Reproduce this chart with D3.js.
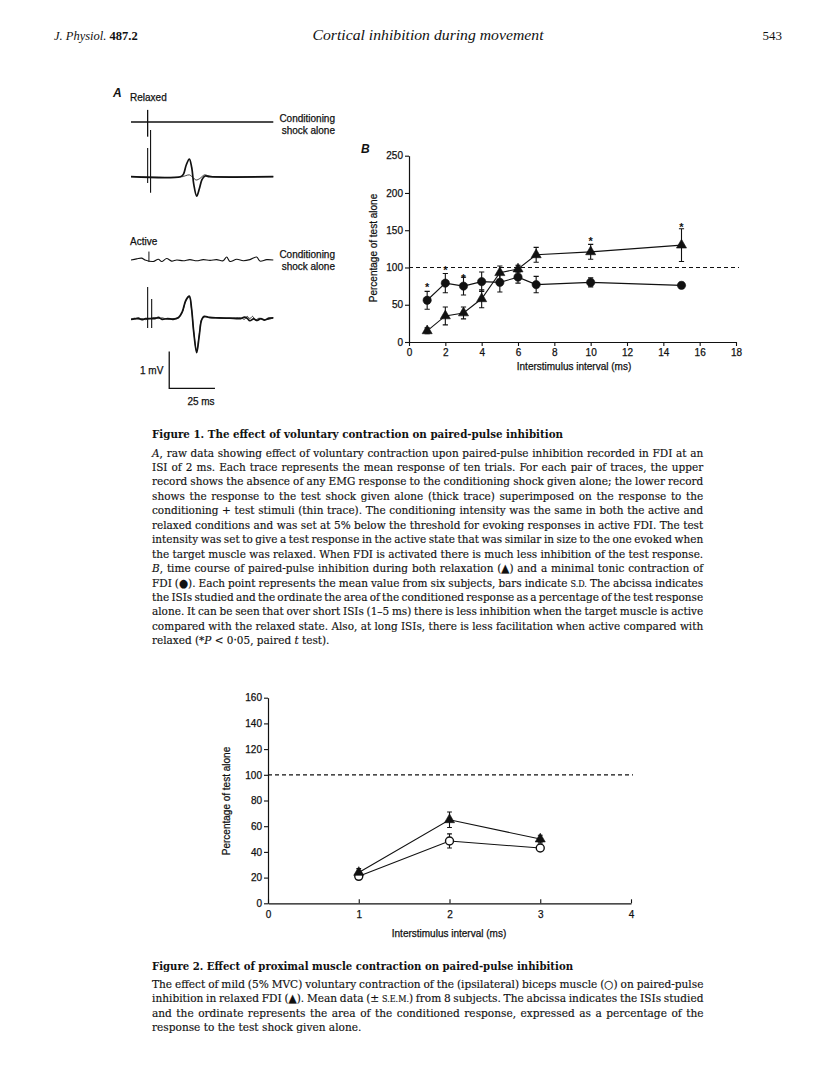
<!DOCTYPE html>
<html>
<head>
<meta charset="utf-8">
<script src="https://cdn.jsdelivr.net/npm/d3@7"></script>
<style>
  html, body { margin: 0; padding: 0; background: #fff; }
  svg { display: block; }
</style>
</head>
<body>
<div id="page"></div>
<script>
/* --- data: panel A traces ([ms, mV]) -------------------------------------- */
const relaxedCond = [[0,0],[20,0],[40,0],[60,0],[77.8,0]];
const relaxedTestThick = [[0,0],[27,0],[28.6,0.06],[30.2,0.32],[31.9,0.48],[33.2,0.25],[34.3,-0.2],[35.9,-0.53],[37.4,-0.32],[38.8,-0.08],[40.5,0.02],[43,0],[77.8,0]];
const relaxedTestThin = [[0,0],[28,0],[30,0.03],[31.9,0.05],[33.6,-0.01],[35.6,-0.09],[37.6,-0.05],[40.2,0.05],[42.5,0.02],[46,0],[77.8,0]];
const activeCond = [[0,0],[3.1,0.03],[5.8,0.05],[7.7,0],[12.2,-0.04],[14.9,0.02],[16.8,-0.04],[19.5,0.04],[22.2,-0.03],[25,0],[28.6,-0.02],[32.2,0.01],[35.9,-0.02],[39.5,0.01],[43.2,-0.01],[46.8,0.01],[50.4,-0.02],[52.3,0.08],[54.1,-0.04],[57.8,0.02],[61.4,-0.02],[65,0.01],[68.7,0.08],[70.5,-0.03],[74.2,0.01],[77.8,0]];
const activeTestThick = [[0,0],[2,0.01],[4,0.03],[6,-0.01],[8,0.02],[13,0.02],[15,0.05],[17,0],[20,0.02],[23,0],[26,0.05],[28,0.2],[30,0.52],[31.9,0.63],[33.1,0.3],[34.3,-0.35],[35.9,-0.91],[37.3,-0.45],[38.6,-0.02],[40,0.08],[43,0.05],[48,0.04],[54,0.03],[60,0.02],[62,0.06],[63.5,0.03],[65,-0.04],[67,0.01],[69,-0.03],[71,0.02],[73,-0.02],[75.5,0.03],[77.8,0.04]];
const activeTestThin = [[0,0],[2,0.03],[4,0],[6,0.02],[8,-0.01],[13,0.05],[15,0.02],[17,0.04],[20,0],[23,0.02],[26,0.04],[28,0.18],[30,0.5],[31.9,0.6],[33.1,0.28],[34.3,-0.33],[35.9,-0.86],[37.3,-0.42],[38.6,0],[40,0.06],[43,0.04],[48,0.03],[54,0.03],[60,0.04],[62,0],[63.5,0.08],[65,0.02],[66.5,0.08],[68,-0.02],[70,0.03],[72,-0.01],[75.5,0],[77.8,0.04]];
// stimulus artefacts: [ms, top mV, bottom mV]
const relaxedCondArt = [[9.1,0.33,-0.4]];
const relaxedTestArt = [[9.1,0.78,-0.17],[10.7,1.27,-0.44]];
const activeCondArt = [[9.8,0.23,-0.05]];
const activeTestArt = [[9.1,0.88,-0.24],[11.3,0.55,-0.24]];
const scaleBarMs = 25, scaleBarMv = 1;

/* --- data: panel B -------------------------------------------------------- */
const isiB = [1,2,3,4,5,6,7,10,15];
const relaxedB = [15,35,39,58,93,98,117,121,130];
const relaxedSD = [4,12,8,12,9,5,10,10,22];
const activeB = [56,79,75,81,80,87,77,80,76];
const activeSD = [12,13,12,13,13,8,11,6,4];
const sigISI = [1,2,3,10,15];
const sigY = [76,99,89,138,157];
const xTicksB = [0,2,4,6,8,10,12,14,16,18];
const yTicksB = [0,50,100,150,200,250];

/* --- data: figure 2 ------------------------------------------------------- */
const isi2 = [1,2,3];
const relaxed2 = [24,65,50];
const relaxed2SEM = [3,6,3];
const biceps2 = [21,48.5,43];
const biceps2SEM = [2,5.5,2];
const xTicks2 = [0,1,2,3,4];
const yTicks2 = [0,20,40,60,80,100,120,140,160];

/* --- text ----------------------------------------------------------------- */
const fig1Title = "Figure 1. The effect of voluntary contraction on paired-pulse inhibition";
const fig1Lines = [
  "_A_, raw data showing effect of voluntary contraction upon paired-pulse inhibition recorded in FDI at an",
  "ISI of 2 ms. Each trace represents the mean response of ten trials. For each pair of traces, the upper",
  "record shows the absence of any EMG response to the conditioning shock given alone; the lower record",
  "shows the response to the test shock given alone (thick trace) superimposed on the response to the",
  "conditioning + test stimuli (thin trace). The conditioning intensity was the same in both the active and",
  "relaxed conditions and was set at 5% below the threshold for evoking responses in active FDI. The test",
  "intensity was set to give a test response in the active state that was similar in size to the one evoked when",
  "the target muscle was relaxed. When FDI is activated there is much less inhibition of the test response.",
  "_B_, time course of paired-pulse inhibition during both relaxation (▲) and a minimal tonic contraction of",
  "FDI (●). Each point represents the mean value from six subjects, bars indicate ~s.d.~ The abcissa indicates",
  "the ISIs studied and the ordinate the area of the conditioned response as a percentage of the test response",
  "alone. It can be seen that over short ISIs (1–5 ms) there is less inhibition when the target muscle is active",
  "compared with the relaxed state. Also, at long ISIs, there is less facilitation when active compared with",
  "relaxed (*_P_ < 0·05, paired _t_ test)."
];
const fig2Title = "Figure 2. Effect of proximal muscle contraction on paired-pulse inhibition";
const fig2Lines = [
  "The effect of mild (5% MVC) voluntary contraction of the (ipsilateral) biceps muscle (○) on paired-pulse",
  "inhibition in relaxed FDI (▲). Mean data (± ~s.e.m.~) from 8 subjects. The abcissa indicates the ISIs studied",
  "and the ordinate represents the area of the conditioned response, expressed as a percentage of the",
  "response to the test shock given alone."
];

/* --- setup ---------------------------------------------------------------- */
const SANS = "'Liberation Sans', Arial, sans-serif";
const SERIF = "'DejaVu Serif', serif";
const INK = "#111";

const svg = d3.select("#page").append("svg")
  .attr("width", 816).attr("height", 1088);
svg.append("rect").attr("width", 816).attr("height", 1088).attr("fill", "#fff");

// scanned print looks a touch heavier than plain glyphs
const heavy = sel => sel.attr("stroke", INK).attr("stroke-width", 0.25);

/* --- running head --------------------------------------------------------- */
const head = svg.append("g").attr("font-family", "'Liberation Serif', serif").attr("fill", INK);
const hl = head.append("text").attr("x", 54).attr("y", 40).attr("font-size", 12.5);
hl.append("tspan").attr("font-style", "italic").text("J. Physiol. ");
hl.append("tspan").attr("font-weight", "bold").text("487.2");
head.append("text").attr("x", 428).attr("y", 40).attr("text-anchor", "middle")
  .attr("font-size", 15).attr("font-style", "italic")
  .attr("textLength", 231).attr("lengthAdjust", "spacingAndGlyphs")
  .text("Cortical inhibition during movement");
head.append("text").attr("x", 782).attr("y", 40).attr("text-anchor", "end")
  .attr("font-size", 13).text("543");

/* --- panel A: traces ------------------------------------------------------ */
const ga = svg.append("g").attr("font-family", SANS).attr("fill", INK);
const tx = d3.scaleLinear().domain([0, 77.8]).range([131, 273.3]);
const mvPx = 36.7;
const amp = base => d3.scaleLinear().domain([0, 1]).range([base, base - mvPx]);

const drawTrace = (pts, base, w) => {
  const ty = amp(base);
  ga.append("path")
    .attr("d", d3.line().x(d => tx(d[0])).y(d => ty(d[1])).curve(d3.curveCatmullRom.alpha(0.5))(pts))
    .attr("fill", "none").attr("stroke", INK).attr("stroke-width", w)
    .attr("stroke-linejoin", "round");
};
const drawArt = (arts, base, w) => {
  const ty = amp(base);
  ga.selectAll(null).data(arts).join("line")
    .attr("x1", d => tx(d[0])).attr("x2", d => tx(d[0]))
    .attr("y1", d => ty(d[1])).attr("y2", d => ty(d[2]))
    .attr("stroke", INK).attr("stroke-width", w);
};

drawTrace(relaxedCond, 122, 1.3);
drawArt(relaxedCondArt, 122, 1.3);
drawTrace(relaxedTestThin, 176.7, 0.8);
drawTrace(relaxedTestThick, 176.7, 1.7);
drawArt(relaxedTestArt, 176.7, 1.1);
drawTrace(activeCond, 260, 1.1);
drawArt(activeCondArt, 260, 1);
drawTrace(activeTestThin, 319.3, 0.8);
drawTrace(activeTestThick, 319.3, 1.7);
drawArt(activeTestArt, 319.3, 1.1);

// scale bar
const sbY = amp(388.3), sbT = 20.9;
ga.append("path")
  .attr("d", `M${tx(sbT)},${sbY(scaleBarMv)}V${sbY(0)}H${tx(sbT + scaleBarMs)}`)
  .attr("fill", "none").attr("stroke", INK).attr("stroke-width", 1.3);
ga.append("text").attr("x", 140).attr("y", 374).attr("font-size", 10).text(`${scaleBarMv} mV`).call(heavy);
ga.append("text").attr("x", 201).attr("y", 405).attr("font-size", 10).attr("text-anchor", "middle").text(`${scaleBarMs} ms`).call(heavy);

ga.append("text").attr("x", 113).attr("y", 97).attr("font-size", 12)
  .attr("font-weight", "bold").attr("font-style", "italic").text("A");
ga.append("text").attr("x", 130).attr("y", 101).attr("font-size", 10).text("Relaxed").call(heavy);
ga.append("text").attr("x", 130).attr("y", 244.5).attr("font-size", 10).text("Active").call(heavy);
[[122, 133.5], [257.5, 270]].forEach(([y1, y2]) => {
  ga.append("text").attr("x", 335).attr("y", y1).attr("font-size", 10).attr("text-anchor", "end").text("Conditioning").call(heavy);
  ga.append("text").attr("x", 335).attr("y", y2).attr("font-size", 10).attr("text-anchor", "end").text("shock alone").call(heavy);
});

/* --- shared plot helpers -------------------------------------------------- */
const styleAxis = sel => {
  sel.select(".domain").attr("stroke", INK).attr("stroke-width", 1.2);
  sel.selectAll(".tick line").attr("stroke", INK).attr("stroke-width", 1.1);
  sel.selectAll(".tick text").attr("font-family", SANS).attr("font-size", 10).attr("fill", INK).call(heavy);
};
const errBars = (g, xs, ys, es, x, y, cap) => {
  xs.forEach((v, i) => {
    const cx = x(v), t = y(ys[i] + es[i]), b = y(ys[i] - es[i]);
    g.append("path")
      .attr("d", `M${cx},${t}V${b}M${cx - cap},${t}H${cx + cap}M${cx - cap},${b}H${cx + cap}`)
      .attr("stroke", INK).attr("stroke-width", 1.1).attr("fill", "none");
  });
};
const series = (g, xs, ys, x, y) => {
  g.append("path")
    .attr("d", d3.line().x((d, i) => x(xs[i])).y(d => y(d))(ys))
    .attr("fill", "none").attr("stroke", INK).attr("stroke-width", 1.1);
};
const markers = (g, xs, ys, x, y, type, size, fill) => {
  g.selectAll(null).data(ys).join("path")
    .attr("transform", (d, i) => `translate(${x(xs[i])},${y(d)})`)
    .attr("d", d3.symbol(type, size))
    .attr("fill", fill).attr("stroke", INK).attr("stroke-width", fill === "#fff" ? 1.4 : 0.6);
};

/* --- panel B -------------------------------------------------------------- */
const gb = svg.append("g");
const bx = d3.scaleLinear().domain([0, 18]).range([409, 736]);
const by = d3.scaleLinear().domain([0, 250]).range([342, 155.7]);

gb.append("g").attr("transform", `translate(0,${by(0)})`)
  .call(d3.axisBottom(bx).tickValues(xTicksB).tickFormat(d3.format("d")).tickSize(4).tickSizeOuter(0).tickPadding(3))
  .call(styleAxis);
gb.append("g").attr("transform", `translate(${bx(0)},0)`)
  .call(d3.axisLeft(by).tickValues(yTicksB).tickFormat(d3.format("d")).tickSize(4).tickSizeOuter(0).tickPadding(2))
  .call(styleAxis);

gb.append("line")
  .attr("x1", bx(0)).attr("x2", bx(18) + 3).attr("y1", by(100)).attr("y2", by(100))
  .attr("stroke", INK).attr("stroke-width", 1.2).attr("stroke-dasharray", "4,3");

series(gb, isiB, activeB, bx, by);
series(gb, isiB, relaxedB, bx, by);
errBars(gb, isiB, activeB, activeSD, bx, by, 2.6);
errBars(gb, isiB, relaxedB, relaxedSD, bx, by, 2.6);
markers(gb, isiB, activeB, bx, by, d3.symbolCircle, 54, INK);
markers(gb, isiB, relaxedB, bx, by, d3.symbolTriangle, 44, INK);

gb.selectAll(null).data(sigY).join("text")
  .attr("x", (d, i) => bx(sigISI[i])).attr("y", d => by(d) + 6)
  .attr("text-anchor", "middle").attr("font-family", SANS).attr("font-size", 11)
  .attr("font-weight", "bold").attr("fill", INK).text("*");

gb.append("text").attr("x", 574).attr("y", 370).attr("text-anchor", "middle")
  .attr("font-family", SANS).attr("font-size", 10).attr("fill", INK)
  .text("Interstimulus interval (ms)").call(heavy);
gb.append("text").attr("transform", "translate(377,248) rotate(-90)")
  .attr("text-anchor", "middle").attr("font-family", SANS).attr("font-size", 10).attr("fill", INK)
  .text("Percentage of test alone").call(heavy);
gb.append("text").attr("x", 361).attr("y", 153).attr("font-family", SANS).attr("font-size", 12)
  .attr("font-weight", "bold").attr("font-style", "italic").attr("fill", INK).text("B");

/* --- figure 2 ------------------------------------------------------------- */
const g2 = svg.append("g");
const fx = d3.scaleLinear().domain([0, 4]).range([268, 631]);
const fy = d3.scaleLinear().domain([0, 160]).range([903.3, 697.7]);

g2.append("g").attr("transform", `translate(0,${fy(0)})`)
  .call(d3.axisBottom(fx).tickValues(xTicks2).tickFormat(d3.format("d")).tickSize(-4).tickSizeOuter(0).tickPadding(8))
  .call(styleAxis);
g2.append("g").attr("transform", `translate(${fx(0)},0)`)
  .call(d3.axisLeft(fy).tickValues(yTicks2).tickFormat(d3.format("d")).tickSize(4).tickSizeOuter(0).tickPadding(2))
  .call(styleAxis);

g2.append("line")
  .attr("x1", fx(0)).attr("x2", fx(4) + 2).attr("y1", fy(100)).attr("y2", fy(100))
  .attr("stroke", INK).attr("stroke-width", 1.2).attr("stroke-dasharray", "4,3");

series(g2, isi2, biceps2, fx, fy);
series(g2, isi2, relaxed2, fx, fy);
errBars(g2, isi2, biceps2, biceps2SEM, fx, fy, 2.4);
errBars(g2, isi2, relaxed2, relaxed2SEM, fx, fy, 2.4);
markers(g2, isi2, biceps2, fx, fy, d3.symbolCircle, 50, "#fff");
markers(g2, isi2, relaxed2, fx, fy, d3.symbolTriangle, 44, INK);

g2.append("text").attr("x", 449).attr("y", 937).attr("text-anchor", "middle")
  .attr("font-family", SANS).attr("font-size", 10).attr("fill", INK)
  .text("Interstimulus interval (ms)").call(heavy);
g2.append("text").attr("transform", "translate(230,801) rotate(-90)")
  .attr("text-anchor", "middle").attr("font-family", SANS).attr("font-size", 10).attr("fill", INK)
  .text("Percentage of test alone").call(heavy);

/* --- captions ------------------------------------------------------------- */
// each line is squeezed horizontally with a transform (so boxes stay true)
// and justified with word-spacing
const fillSegments = (t, line) => {
  line.split(/(_[^_]+_|~[^~]+~)/).filter(Boolean).forEach(s => {
    if (s[0] === "_") t.append("tspan").attr("font-style", "italic").text(s.slice(1, -1));
    else if (s[0] === "~") t.append("tspan").attr("font-size", 8.6).text(s.slice(1, -1).toUpperCase());
    else t.append("tspan").text(s);
  });
};
const caption = (title, titleW, lines, x0, yTitle, y0, step, width) => {
  const g = svg.append("g").attr("font-family", SERIF).attr("fill", INK);
  g.append("text").attr("x", x0).attr("y", yTitle).attr("font-size", 11.5).attr("font-weight", "bold")
    .attr("textLength", titleW).attr("lengthAdjust", "spacingAndGlyphs").text(title);
  const texts = lines.map(line => {
    const t = g.append("text").attr("x", 0).attr("y", 0).attr("font-size", 11.3)
      .attr("stroke", INK).attr("stroke-width", 0.15);
    fillSegments(t, line);
    return t;
  });
  const nat = texts.map(t => t.node().getComputedTextLength());
  const r = d3.mean(nat.slice(0, -1), w => width / w);
  texts.forEach((t, i) => {
    t.attr("transform", `translate(${x0},${y0 + i * step}) scale(${r},1)`);
    if (i < texts.length - 1) {
      const gaps = (lines[i].match(/ /g) || []).length;
      t.attr("word-spacing", (width / r - nat[i]) / gaps);
    }
  });
};
caption(fig1Title, 411, fig1Lines, 152, 438, 456.5, 14.45, 552);
caption(fig2Title, 421, fig2Lines, 152, 970, 988, 14.45, 552);
</script>
</body>
</html>
